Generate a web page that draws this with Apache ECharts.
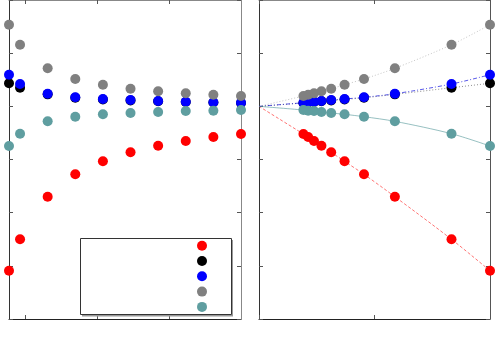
<!DOCTYPE html>
<html><head><meta charset="utf-8">
<script src="https://cdn.jsdelivr.net/npm/echarts@6/dist/echarts.min.js"></script>
<style>html,body{margin:0;padding:0;background:#fff}#c{width:500px;height:350px}</style>
</head><body><div id="c"></div>
<script>
// x values (left panel: N; right panel: 1/N)
const N = [1, 1.2, 1.7, 2.2, 2.7, 3.2, 3.7, 4.2, 4.7, 5.2];
const redVals   = [0.908, 1.499, 2.300, 2.721, 2.966, 3.135, 3.259, 3.348, 3.423, 3.479];
const blackVals = [4.433, 4.350, 4.225, 4.160, 4.130, 4.112, 4.094, 4.082, 4.071, 4.063];
const blueVals  = [4.595, 4.420, 4.237, 4.170, 4.138, 4.119, 4.100, 4.087, 4.076, 4.068];
const grayVals  = [5.535, 5.159, 4.715, 4.514, 4.407, 4.331, 4.283, 4.245, 4.219, 4.194];
const tealVals  = [3.254, 3.485, 3.718, 3.805, 3.850, 3.874, 3.893, 3.912, 3.918, 3.931];
const limitX = 0, limitY = 4.0;   // common extrapolated value at 1/N = 0
const leftTicks = [1.29, 2.594, 3.898];

const names = ['red','black','blue','gray','teal'];
const colors = ['#ff0000','#000000','#0000ff','#808080','#5f9ea0'];
const lineColors = ['rgba(255,0,0,0.55)','rgba(0,0,0,0.45)','rgba(0,0,220,0.65)','rgba(128,128,128,0.45)','rgba(95,158,160,0.65)'];
const lineTypes = [[3,2],[1,2],[4,2,1,2],[1,2],'solid'];
const allVals = [redVals, blackVals, blueVals, grayVals, tealVals];

const chart = echarts.init(document.getElementById('c'), null, {renderer:'canvas'});
const tick = (c)=>({show:true, inside:true, length:4, lineStyle:{color:c||'#555'}});
const hideLbl = {show:false};
function mkX(grid, pos, min, max, opts, lineColor){
  return Object.assign({type:'value', gridIndex:grid, position:pos, min:min, max:max,
    axisLine:{show:true, onZero:false, lineStyle:{color:lineColor, width:1}},
    axisLabel:hideLbl, splitLine:{show:false}}, opts);
}
const xAxis = [
  mkX(0,'bottom',1,5.2,{axisTick:Object.assign(tick(),{customValues:leftTicks})},'#222'),
  mkX(0,'top',1,5.2,{axisTick:Object.assign(tick(),{customValues:leftTicks})},'#888'),
  mkX(1,'bottom',0,1,{interval:0.5, axisTick:tick()},'#222'),
  mkX(1,'top',0,1,{interval:0.5, axisTick:tick()},'#888')
];
function mkY(grid,pos,lineColor){
  return {type:'value', gridIndex:grid, position:pos, min:0, max:6, interval:1,
    axisLine:{show:true, onZero:false, lineStyle:{color:lineColor,width:1}},
    axisTick:tick(), axisLabel:hideLbl, splitLine:{show:false}};
}
const yAxis = [mkY(0,'left','#333'), mkY(0,'right','#888'), mkY(1,'left','#333'), mkY(1,'right','#555')];

const series = [];
names.forEach((n,i)=>{
  series.push({name:n, type:'scatter', xAxisIndex:0, yAxisIndex:0, symbolSize:10, clip:false,
    itemStyle:{color:colors[i], opacity:1}, data:N.map((x,j)=>[x, allVals[i][j]]), z:3+i});
});
names.forEach((n,i)=>{
  const pts = N.map((x,j)=>[1/x, allVals[i][j]]);
  series.push({name:n+'-fit', type:'line', xAxisIndex:2, yAxisIndex:2, showSymbol:false, symbol:'none', smooth:0.3,
    lineStyle:{color:lineColors[i], width:1, type:lineTypes[i]},
    data:[[limitX, limitY]].concat(pts.slice().reverse()), z:2});
  series.push({name:n, type:'scatter', xAxisIndex:2, yAxisIndex:2, symbolSize:10, clip:false,
    itemStyle:{color:colors[i], opacity:1}, data:pts, z:3+i});
});

chart.setOption({
  animation:false,
  grid:[{left:9, top:0, width:232, height:319}, {left:259, top:0, width:231, height:319}],
  xAxis:xAxis, yAxis:yAxis,
  legend:{orient:'vertical', left:197, top:240.7, padding:0, itemWidth:10, itemHeight:10, itemGap:5.3,
    data:names.map((n,i)=>({name:n, icon:'circle', itemStyle:{color:colors[i], opacity:1}})), formatter:()=>'', selectedMode:false},
  graphic:[
    {type:'line', shape:{x1:82, y1:315.5, x2:233, y2:315.5}, style:{stroke:'#999', lineWidth:2}, z:1},
    {type:'line', shape:{x1:232.5, y1:240, x2:232.5, y2:316}, style:{stroke:'#999', lineWidth:1}, z:1},
    {type:'rect', shape:{x:80.5, y:238.5, width:151, height:76}, style:{fill:'#fff', stroke:'#333', lineWidth:1}, z:2}
  ],
  series:series
});
</script></body></html>
